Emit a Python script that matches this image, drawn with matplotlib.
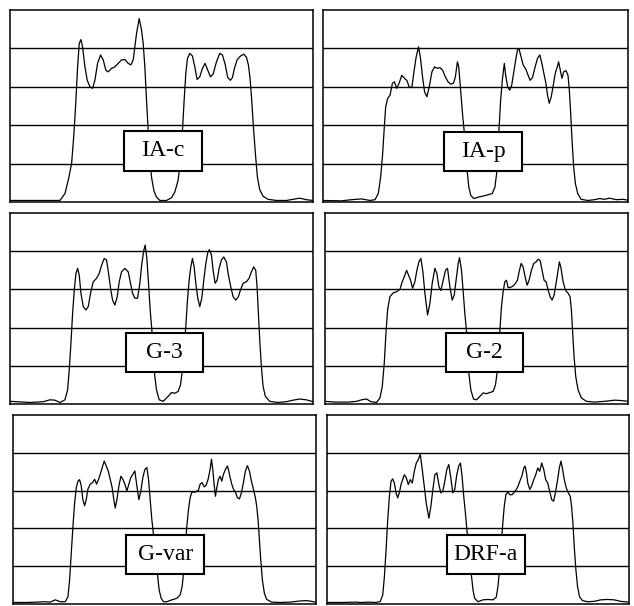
import matplotlib
matplotlib.use("Agg")
import matplotlib.pyplot as plt
from matplotlib.patches import Rectangle

# Dose profiles, relative units (x: position, y: dose level 0-5)

iac_x = [0, 15, 16.5, 17.5, 18.5, 19.2, 19.8, 20.3, 20.8, 21.3, 21.8, 22.5, 23.2, 24.0, 24.8, 25.5,
         26.3, 27.2, 28.0, 28.8, 29.5, 30.5, 31.5, 32.5, 33.5, 34.5, 35.5, 36.3, 37.0, 37.5, 38.0,
         38.8, 39.5, 40.0, 40.5, 41.0, 41.5, 42.0, 42.5, 43.2, 44.0, 45.0, 47.0, 48.5, 49.5, 50.5,
         51.2, 51.8, 52.3, 52.8, 53.3, 54.0, 54.8, 55.5, 56.2, 57.0, 57.8, 58.6, 59.4, 60.2, 61.0,
         62.0, 63.0, 63.8, 64.6, 65.4, 66.2, 66.8, 67.4, 68.2, 69.2, 70.2, 71.0, 71.6, 72.1, 72.6,
         73.1, 73.7, 74.3, 75.0, 76.0, 77.5, 80.0, 83.0, 85.0, 87.0, 89.0, 91.0]
iac_y = [0.04, 0.04, 0.22, 0.57, 1.0, 1.78, 2.65, 3.52, 4.13, 4.23, 4.04, 3.52, 3.17, 3.0, 2.96, 3.17,
         3.61, 3.83, 3.70, 3.43, 3.39, 3.48, 3.52, 3.61, 3.70, 3.71, 3.61, 3.57, 3.70, 4.04, 4.39,
         4.78, 4.48, 4.13, 3.52, 2.65, 1.87, 1.17, 0.65, 0.30, 0.13, 0.04, 0.04, 0.11, 0.26, 0.57,
         1.09, 1.87, 2.65, 3.35, 3.74, 3.87, 3.80, 3.52, 3.19, 3.26, 3.48, 3.61, 3.43, 3.26, 3.33,
         3.65, 3.87, 3.83, 3.59, 3.24, 3.17, 3.24, 3.48, 3.70, 3.80, 3.85, 3.77, 3.57, 3.22, 2.65,
         1.96, 1.26, 0.65, 0.32, 0.15, 0.07, 0.04, 0.04, 0.07, 0.10, 0.06, 0.04]

iap_x = [0, 5.5, 8.5, 11.5, 14, 15.5, 16.5, 17.2, 17.8, 18.3, 18.7, 19.3, 20.0, 20.7, 21.3, 22.0,
         22.7, 23.5, 24.3, 25.0, 25.7, 26.5, 27.2, 27.8, 28.5, 29.1, 29.7, 30.3, 31.0, 31.7, 32.5,
         33.3, 34.1, 34.9, 35.7, 36.5, 37.3, 38.1, 38.9, 39.5, 40.1, 40.5, 40.9, 41.3, 41.7, 42.1,
         42.5, 43.0, 43.5, 44.1, 45.0, 46.5, 48.5, 50.5, 51.3, 51.8, 52.2, 52.5, 53.0, 53.5, 54.1,
         54.5, 55.1, 55.7, 56.3, 57.0, 57.5, 58.0, 58.5, 59.1, 59.7, 60.5, 61.2, 61.8, 62.5, 63.3,
         64.0, 64.7, 65.3, 65.9, 66.5, 67.0, 67.5, 68.1, 68.7, 69.3, 69.9, 70.3, 70.8, 71.3, 71.8,
         72.5, 73.1, 73.5, 73.9, 74.3, 74.8, 75.3, 76.0, 77.0, 79.0, 81.0, 82.5, 84.0, 85.5, 87.5,
         89.5, 91.5]
iap_y = [0.04, 0.03, 0.06, 0.08, 0.04, 0.06, 0.22, 0.65, 1.26, 1.96, 2.48, 2.70, 2.78, 3.09, 3.13, 2.96,
         3.09, 3.30, 3.22, 3.17, 3.0, 2.98, 3.43, 3.78, 4.04, 3.74, 3.26, 2.87, 2.74, 3.0, 3.39,
         3.52, 3.48, 3.50, 3.43, 3.26, 3.13, 3.07, 3.09, 3.26, 3.65, 3.52, 3.09, 2.65, 2.22, 1.87,
         1.43, 0.83, 0.39, 0.17, 0.09, 0.13, 0.17, 0.22, 0.39, 0.74, 1.26, 1.87, 2.65, 3.17, 3.61,
         3.30, 3.0, 2.91, 3.04, 3.43, 3.70, 3.96, 3.98, 3.78, 3.57, 3.46, 3.30, 3.17, 3.24, 3.52,
         3.74, 3.83, 3.61, 3.35, 3.09, 2.78, 2.57, 2.74, 3.04, 3.35, 3.52, 3.65, 3.43, 3.22, 3.39,
         3.42, 3.30, 2.91, 2.30, 1.61, 0.91, 0.48, 0.22, 0.07, 0.04, 0.06, 0.09, 0.07, 0.10, 0.06,
         0.07, 0.04]

g3_x = [0, 6, 10, 12, 13.5, 15, 16.5, 17.3, 17.8, 18.3, 18.8, 19.3, 19.8, 20.3, 20.8, 21.3,
        22.0, 22.8, 23.5, 24.2, 25.0, 26.0, 26.8, 27.5, 28.3, 29.0, 29.6, 30.2, 30.8, 31.5, 32.2,
        32.8, 33.5, 34.5, 35.5, 36.2, 36.8, 37.5, 38.3, 39.0, 39.6, 40.2, 40.6, 41.1, 41.6, 42.1,
        42.6, 43.0, 43.5, 44.0, 44.8, 46.0, 47.5, 48.5, 49.5, 50.5, 51.2, 51.8, 52.3, 52.8, 53.3,
        53.8, 54.3, 54.8, 55.3, 55.8, 56.4, 57.0, 57.6, 58.2, 58.8, 59.4, 59.9, 60.5, 61.0, 61.6,
        62.2, 62.8, 63.5, 64.2, 65.0, 65.6, 66.2, 67.0, 67.8, 68.6, 69.2, 70.0, 71.0, 71.8, 72.5,
        73.2, 73.8, 74.2, 74.6, 75.0, 75.5, 76.0, 76.7, 78.0, 80.5, 83.0, 85.0, 87.0, 89.0, 91.0]
g3_y = [0.07, 0.04, 0.06, 0.11, 0.10, 0.04, 0.11, 0.37, 0.90, 1.59, 2.37, 2.98, 3.42, 3.55, 3.37, 2.90,
        2.55, 2.46, 2.55, 2.90, 3.20, 3.29, 3.42, 3.63, 3.81, 3.77, 3.42, 3.03, 2.72, 2.59, 2.81,
        3.20, 3.46, 3.55, 3.46, 3.16, 2.90, 2.77, 2.77, 3.16, 3.68, 4.03, 4.16, 3.81, 3.16, 2.46,
        1.94, 1.24, 0.72, 0.37, 0.11, 0.07, 0.20, 0.30, 0.28, 0.33, 0.50, 0.90, 1.50, 2.03, 2.72,
        3.24, 3.59, 3.81, 3.59, 3.16, 2.77, 2.55, 2.77, 3.24, 3.67, 3.97, 4.04, 3.90, 3.50, 3.16,
        3.24, 3.55, 3.77, 3.85, 3.72, 3.37, 3.11, 2.81, 2.72, 2.81, 2.98, 3.16, 3.20, 3.29, 3.46,
        3.59, 3.50, 3.07, 2.37, 1.68, 0.98, 0.46, 0.20, 0.07, 0.04, 0.06, 0.10, 0.13, 0.11, 0.06]

g2_x = [0, 3, 7, 9.5, 11, 12.5, 13.8, 15.5, 16.5, 17.2, 17.8, 18.3, 18.8, 19.5, 20.5, 21.5,
        22.5, 23.2, 23.8, 24.5, 25.1, 25.7, 26.3, 27.0, 27.6, 28.2, 28.8, 29.4, 30.0, 30.8, 31.5,
        32.2, 33.0, 33.6, 34.2, 34.8, 35.5, 36.2, 36.8, 37.5, 38.2, 38.8, 39.5, 40.0, 40.4, 41.0,
        41.5, 42.0, 42.5, 43.2, 43.8, 44.6, 45.5, 46.5, 47.5, 48.5, 49.5, 50.5, 51.2, 51.8, 52.2,
        52.6, 53.0, 53.5, 54.0, 54.5, 55.0, 55.7, 56.5, 57.2, 57.8, 58.3, 58.9, 59.5, 60.1, 60.7,
        61.3, 62.0, 62.7, 63.4, 64.0, 64.6, 65.2, 65.8, 66.4, 67.0, 67.6, 68.2, 68.8, 69.4, 70.0,
        70.4, 70.9, 71.5, 72.2, 73.0, 73.6, 74.0, 74.4, 74.8, 75.3, 76.0, 77.0, 78.5, 81.0, 84.0,
        87.0, 89.0, 91.0]
g2_y = [0.07, 0.05, 0.05, 0.07, 0.11, 0.13, 0.06, 0.04, 0.16, 0.46, 1.07, 1.85, 2.46, 2.81, 2.91, 2.94,
        3.0, 3.20, 3.33, 3.50, 3.37, 3.24, 3.03, 3.20, 3.50, 3.72, 3.81, 3.46, 2.90, 2.33, 2.63,
        3.16, 3.55, 3.42, 3.07, 2.97, 3.24, 3.50, 3.55, 3.07, 2.72, 2.85, 3.33, 3.68, 3.83, 3.50,
        2.94, 2.37, 1.90, 0.81, 0.37, 0.13, 0.11, 0.20, 0.29, 0.27, 0.30, 0.33, 0.50, 0.90, 1.50,
        2.03, 2.55, 2.94, 3.20, 3.24, 3.05, 3.05, 3.09, 3.16, 3.24, 3.46, 3.68, 3.59, 3.33, 3.11,
        3.24, 3.50, 3.68, 3.72, 3.79, 3.76, 3.50, 3.24, 3.20, 2.98, 2.81, 2.72, 2.85, 3.16, 3.50,
        3.72, 3.55, 3.20, 2.98, 2.90, 2.81, 2.46, 1.85, 1.24, 0.72, 0.37, 0.16, 0.07, 0.05, 0.07,
        0.10, 0.09, 0.07]

gvar_x = [0, 4.2, 7.2, 9.2, 11.2, 12.7, 14.2, 15.7, 16.5, 17.0, 17.5, 18.0, 18.5, 19.0, 19.5, 20.0,
          20.5, 21.0, 21.5, 22.0, 22.5, 23.2, 23.9, 24.5, 25.1, 25.7, 26.2, 26.8, 27.4, 28.0, 28.6,
          29.2, 29.8, 30.2, 30.7, 31.2, 31.8, 32.4, 33.0, 33.6, 34.2, 34.8, 35.4, 36.0, 36.6, 37.2,
          37.8, 38.4, 39.0, 39.6, 40.2, 40.7, 41.2, 41.7, 42.2, 43.4, 43.9, 44.5, 45.2, 46.2, 47.7,
          49.2, 50.2, 50.8, 51.2, 51.7, 52.2, 52.7, 53.2, 53.7, 54.7, 55.7, 56.2, 56.8, 57.4, 58.0,
          58.6, 59.2, 59.6, 60.0, 60.4, 60.8, 61.2, 61.7, 62.2, 62.7, 63.2, 63.8, 64.4, 64.8, 65.2,
          65.7, 66.2, 66.8, 67.4, 68.0, 68.6, 69.2, 69.8, 70.4, 71.0, 71.6, 72.2, 72.8, 73.2, 73.6,
          74.0, 74.4, 74.9, 75.5, 76.2, 77.7, 80.2, 83.2, 86.2, 88.2, 91.0]
gvar_y = [0.04, 0.04, 0.05, 0.06, 0.05, 0.11, 0.06, 0.06, 0.19, 0.64, 1.35, 2.05, 2.67, 3.07, 3.25, 3.29,
          3.12, 2.76, 2.60, 2.76, 3.04, 3.17, 3.21, 3.30, 3.17, 3.30, 3.43, 3.61, 3.78, 3.65, 3.52,
          3.30, 3.07, 2.81, 2.54, 2.76, 3.12, 3.38, 3.30, 3.17, 2.99, 3.17, 3.35, 3.43, 3.52, 3.12,
          2.76, 2.99, 3.35, 3.56, 3.61, 3.30, 2.76, 2.23, 1.83, 0.77, 0.37, 0.15, 0.06, 0.06, 0.11,
          0.15, 0.24, 0.46, 0.81, 1.43, 2.05, 2.50, 2.81, 2.96, 2.96, 3.01, 3.17, 3.21, 3.10, 3.14,
          3.30, 3.56, 3.83, 3.56, 3.17, 2.85, 3.07, 3.30, 3.38, 3.25, 3.43, 3.56, 3.65, 3.52, 3.35,
          3.17, 3.04, 2.96, 2.81, 2.78, 2.94, 3.21, 3.52, 3.66, 3.52, 3.25, 3.04, 2.81, 2.58, 2.23,
          1.70, 1.17, 0.64, 0.28, 0.12, 0.05, 0.04, 0.05, 0.08, 0.09, 0.05]

drfa_x = [0, 4.5, 8.5, 10.5, 12.5, 14.5, 16.0, 16.8, 17.3, 17.8, 18.3, 18.8, 19.3, 19.8, 20.3, 20.8,
          21.3, 21.8, 22.3, 22.8, 23.3, 23.9, 24.5, 25.1, 25.7, 26.3, 26.9, 27.5, 28.1, 28.7, 29.3,
          29.9, 30.7, 31.3, 31.9, 32.5, 33.1, 33.7, 34.3, 34.9, 35.5, 36.1, 36.7, 37.3, 37.9, 38.5,
          39.1, 39.7, 40.2, 40.7, 41.2, 41.7, 42.2, 43.5, 44.0, 44.5, 45.5, 47.0, 48.5, 50.0, 51.0,
          51.5, 51.9, 52.4, 52.9, 53.4, 53.9, 54.5, 55.1, 55.7, 56.3, 56.9, 57.5, 58.1, 58.7, 59.3,
          59.7, 60.1, 60.5, 61.1, 61.7, 62.3, 62.9, 63.5, 64.1, 64.7, 65.3, 65.9, 66.5, 67.1, 67.7,
          68.3, 68.9, 69.5, 70.0, 70.5, 71.0, 71.5, 72.1, 72.7, 73.3, 73.7, 74.1, 74.5, 75.0, 75.5,
          76.1, 77.0, 78.5, 80.5, 82.5, 84.5, 86.5, 88.5, 90.7]
drfa_y = [0.04, 0.04, 0.05, 0.04, 0.05, 0.04, 0.06, 0.24, 0.73, 1.43, 2.23, 2.85, 3.25, 3.31, 3.20, 2.94,
          2.81, 2.94, 3.16, 3.29, 3.42, 3.34, 3.16, 3.29, 3.20, 3.51, 3.73, 3.82, 3.96, 3.56, 3.12,
          2.67, 2.27, 2.58, 3.03, 3.42, 3.47, 3.16, 2.94, 2.99, 3.25, 3.56, 3.69, 3.34, 2.94, 3.03,
          3.42, 3.65, 3.73, 3.38, 2.85, 2.41, 1.92, 0.77, 0.37, 0.15, 0.06, 0.11, 0.12, 0.11, 0.18,
          0.46, 0.81, 1.43, 2.05, 2.58, 2.89, 2.96, 2.89, 2.89, 2.94, 3.01, 3.10, 3.25, 3.38, 3.60,
          3.65, 3.47, 3.20, 3.03, 3.13, 3.29, 3.42, 3.60, 3.51, 3.73, 3.56, 3.29, 3.20, 2.98, 2.76,
          2.72, 2.98, 3.29, 3.60, 3.78, 3.56, 3.29, 3.07, 2.94, 2.85, 2.58, 2.14, 1.52, 0.90, 0.46,
          0.19, 0.09, 0.06, 0.07, 0.11, 0.12, 0.11, 0.07, 0.05]

names = ["IA-c", "IA-p", "G-3", "G-2", "G-var", "DRF-a"]
profiles = [(iac_x, iac_y), (iap_x, iap_y), (g3_x, g3_y),
            (g2_x, g2_y), (gvar_x, gvar_y), (drfa_x, drfa_y)]

# panel frames in pixels: left, top, right, bottom
frames = [(10, 10, 313, 202), (323, 10, 628, 202),
          (10, 213, 313, 404), (325, 213, 628, 404),
          (13, 415, 316, 604), (327, 415, 629, 604)]
# label box centres (x, y)
label_pos = [(45.95, 1.33), (47.75, 1.32), (46.4, 1.35),
             (47.9, 1.35), (45.7, 1.31), (47.85, 1.31)]

W, H = 634, 606
fig = plt.figure(figsize=(W / 100, H / 100), dpi=100)
fig.patch.set_facecolor("white")

for name, (xs, ys), (l, t, r, b), (cx, cy) in zip(names, profiles, frames, label_pos):
    ax = fig.add_axes([l / W, 1 - b / H, (r - l) / W, (b - t) / H])
    ax.set_xlim(0, 91)
    ax.set_ylim(0, 5)
    for lev in [1, 2, 3, 4]:
        ax.axhline(lev, color="black", lw=1.0, zorder=1)
    ax.plot(xs, ys, color="black", lw=0.9, zorder=2)
    bw, bh = 23.4, 1.02
    ax.add_patch(Rectangle((cx - bw / 2, cy - bh / 2), bw, bh, facecolor="white",
                           edgecolor="black", lw=1.5, zorder=3))
    ax.text(cx, cy, name, ha="center", va="center", fontsize=17,
            family="Liberation Serif", zorder=4)
    ax.set_xticks([])
    ax.set_yticks([])
    for s in ax.spines.values():
        s.set_linewidth(1.1)

fig.savefig("out.png", dpi=100)
